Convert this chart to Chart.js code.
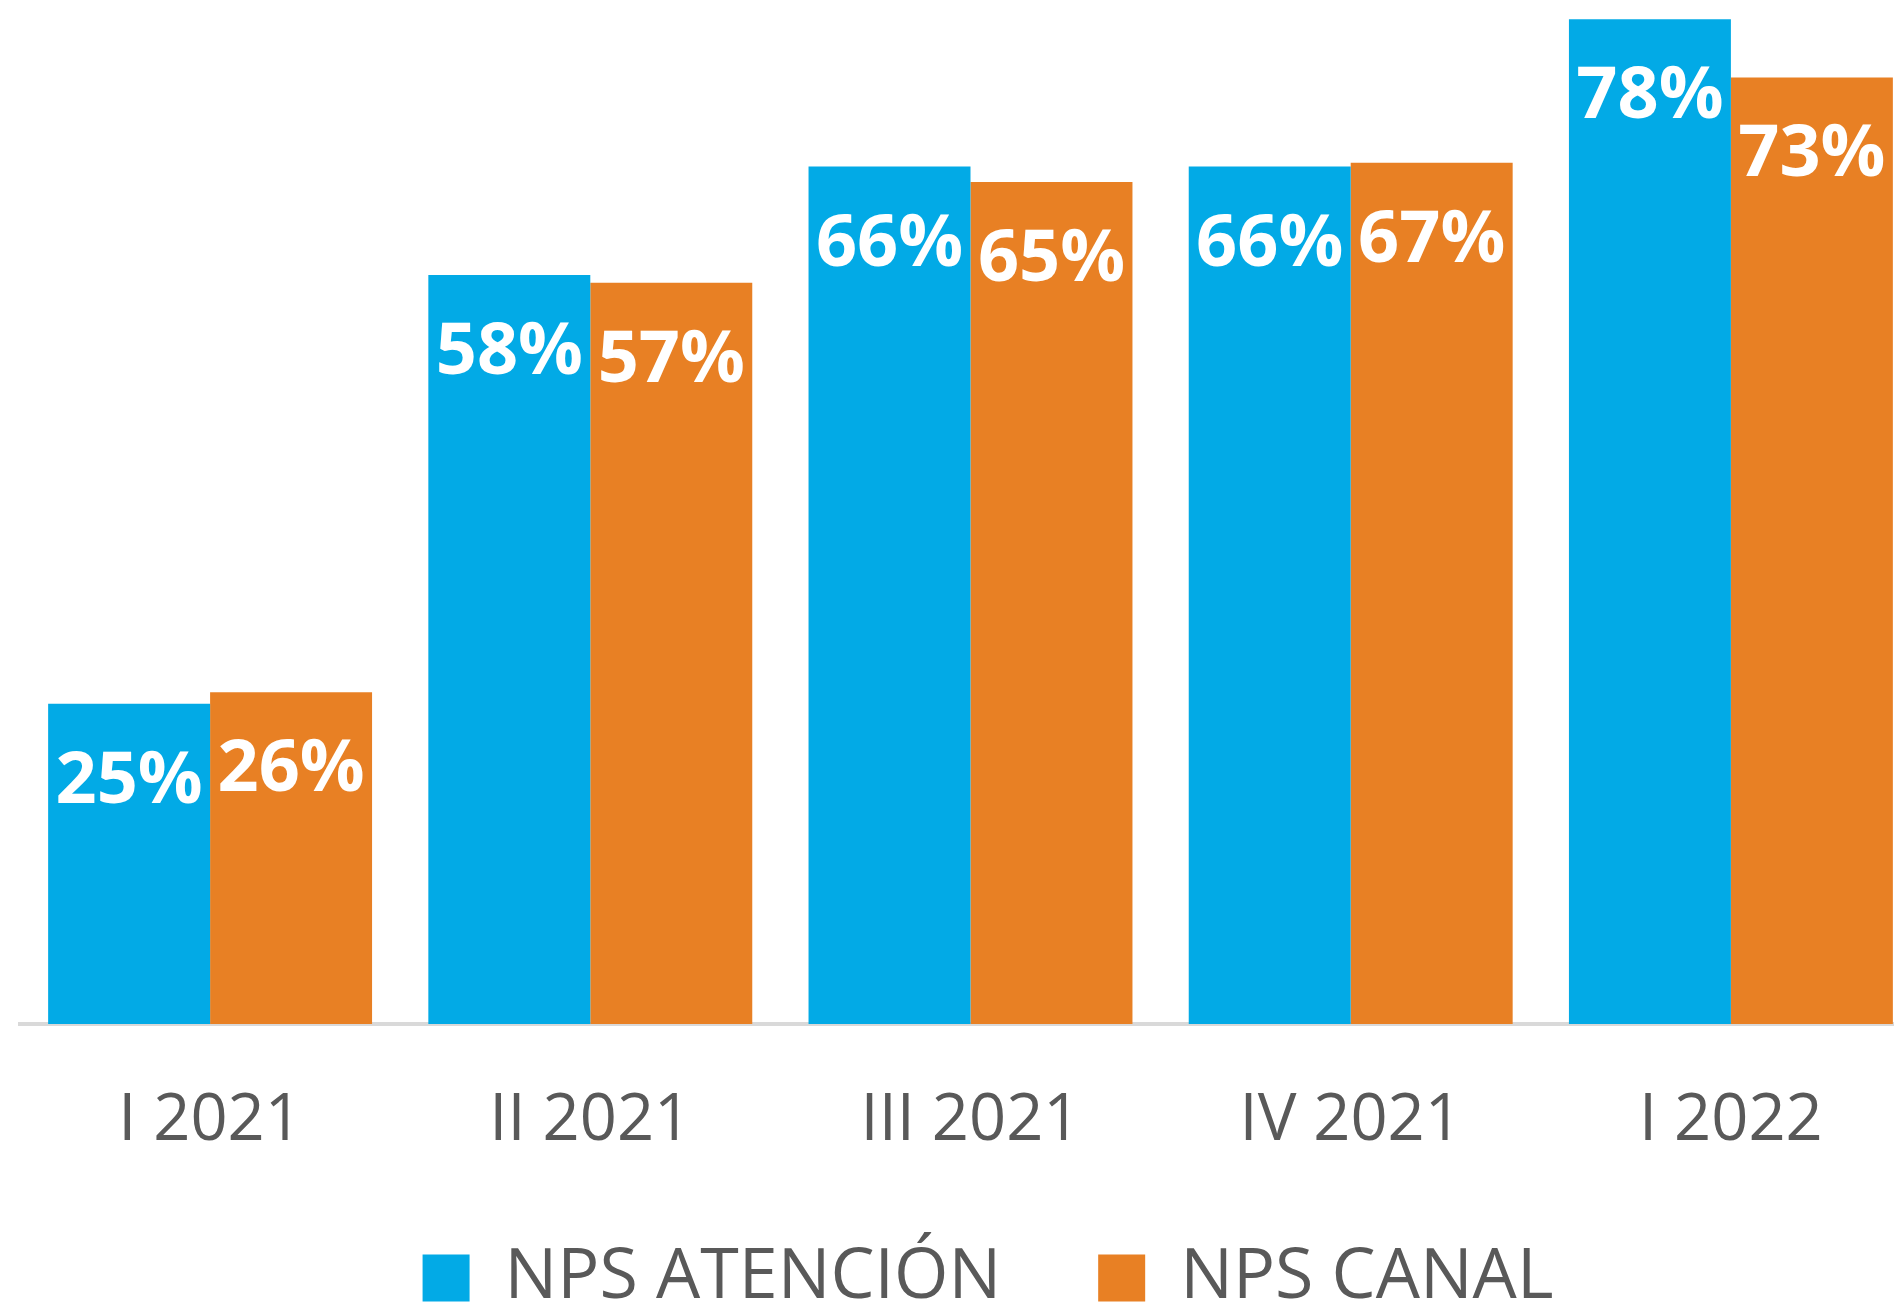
<!DOCTYPE html>
<html lang="es">
<head>
    <meta charset="UTF-8">
    <title>NPS</title>
    <script src="https://cdn.jsdelivr.net/npm/chart.js@4.4.1/dist/chart.umd.min.js"></script>
    <style>
        html, body { margin: 0; padding: 0; background: #fff; overflow: hidden; }
        #wrap { width: 1894px; height: 1312px; overflow: hidden; }
        canvas { display: block; }
    </style>
</head>
<body>
    <div id="wrap">
        <canvas id="npsChart" width="1956" height="1323"></canvas>
    </div>

    <script>
        // values (bar heights), labels are rounded
        var periods = ['I 2021', 'II 2021', 'III 2021', 'IV 2021', 'I 2022'];
        var npsAtencion = [24.8, 58.0, 66.4, 66.4, 77.8];
        var npsCanal = [25.7, 57.4, 65.2, 66.7, 73.3];
        var seriesNames = ['NPS ATENCIÓN', 'NPS CANAL'];

        var blue = '#02AAE6';
        var orange = '#E88024';
        var grey = '#595959';

        // white % labels inside the top of each bar
        var barLabels = {
            id: 'barLabels',
            afterDatasetsDraw: function(chart) {
                var ctx = chart.ctx;
                ctx.save();
                ctx.font = 'bold 72px "Open Sans"';
                ctx.fillStyle = '#fff';
                ctx.textAlign = 'center';
                ctx.textBaseline = 'alphabetic';
                chart.data.datasets.forEach(function(ds, di) {
                    chart.getDatasetMeta(di).data.forEach(function(bar, i) {
                        ctx.fillText(Math.round(ds.data[i]) + '%', bar.x, bar.y + 99);
                    });
                });
                ctx.restore();
            }
        };

        var ctx = document.getElementById('npsChart').getContext('2d');
        var chart = new Chart(ctx, {
            type: 'bar',
            data: {
                labels: periods,
                datasets: [
                    { label: seriesNames[0], data: npsAtencion, backgroundColor: blue, borderWidth: 0 },
                    { label: seriesNames[1], data: npsCanal, backgroundColor: orange, borderWidth: 0 }
                ]
            },
            options: {
                responsive: false,
                animation: false,
                categoryPercentage: 0.852,
                barPercentage: 1.0,
                layout: { padding: { left: 20, right: 0, top: 0, bottom: 0 } },
                scales: {
                    x: {
                        grid: { display: false, drawTicks: false },
                        border: { display: true, color: '#D9D9D9', width: 4 },
                        ticks: {
                            color: grey,
                            padding: 58,
                            font: { family: '"Open Sans"', size: 65 }
                        },
                        afterFit: function(scale) { scale.height = 122; }
                    },
                    y: {
                        position: 'right',
                        min: 0,
                        max: 79.3,
                        grid: { display: false, drawTicks: false },
                        border: { display: false },
                        ticks: { display: false },
                        afterFit: function(scale) { scale.width = 35; }
                    }
                },
                plugins: {
                    tooltip: { enabled: false },
                    legend: {
                        position: 'bottom',
                        labels: {
                            color: grey,
                            boxWidth: 47,
                            boxHeight: 47,
                            padding: 97,
                            font: { family: '"Open Sans"', size: 70 }
                        }
                    }
                }
            },
            plugins: [barLabels]
        });
    </script>
</body>
</html>
